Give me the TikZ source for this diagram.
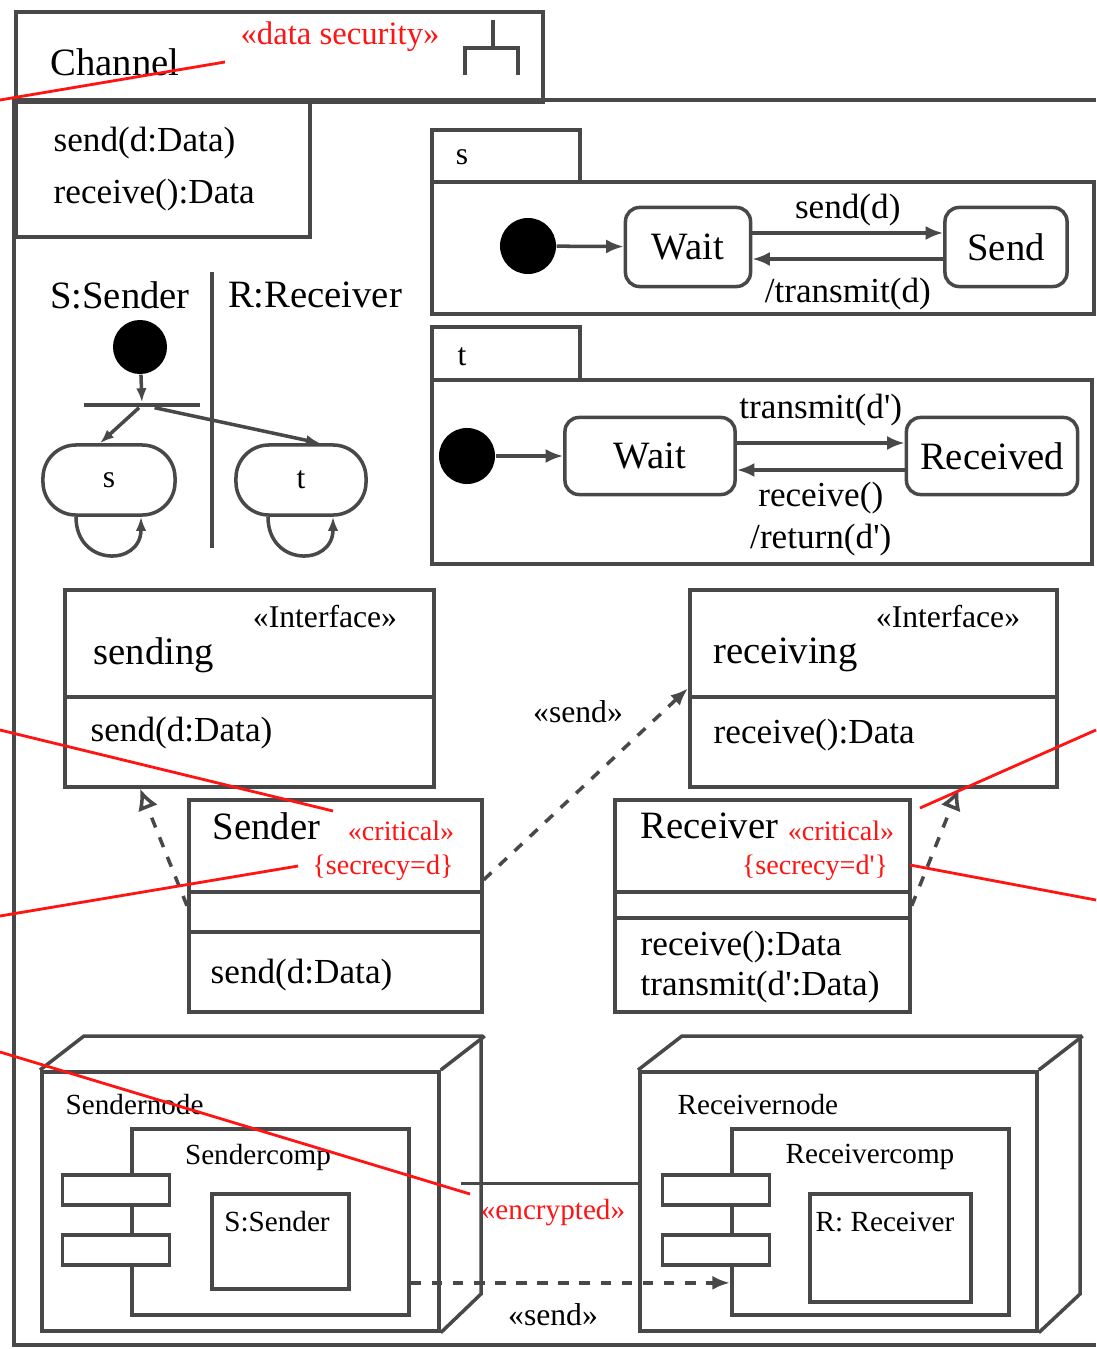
\documentclass[tikz,border=0pt]{standalone}
\usepackage{fontspec}
\setmainfont{Liberation Serif}
\usetikzlibrary{arrows.meta,positioning,calc}
\definecolor{umlline}{RGB}{72,72,72}
\definecolor{umlred}{RGB}{255,20,20}
\newcommand{\prm}{\textquotesingle}
\tikzset{
  box/.style={draw=umlline,line width=1pt,inner sep=0pt,fill=white},
  frameline/.style={draw=umlline,line width=1pt},
  statebox/.style={box,rounded corners=0.14cm},
  startdot/.style={circle,fill=black,inner sep=0pt,minimum size=0.56cm},
  bigtxt/.style={inner sep=0pt,font=\fontsize{11}{13}\selectfont},
  optxt/.style={inner sep=0pt,font=\fontsize{10}{12}\selectfont},
  smalltxt/.style={inner sep=0pt,font=\fontsize{9}{11}\selectfont},
  deptxt/.style={inner sep=0pt,font=\fontsize{8.3}{10}\selectfont},
  redtxt/.style={inner sep=0pt,text=umlred,font=\fontsize{8}{10}\selectfont},
  trans/.style={frameline,-{Latex[length=5pt,width=4pt]}},
  realize/.style={frameline,dashed,-{Latex[open,length=6pt,width=6pt]}},
  usedep/.style={frameline,dashed,-{Latex[length=5pt,width=4pt]}},
  redline/.style={draw=umlred,line width=0.8pt},
}
\begin{document}
\begin{tikzpicture}[x=0.01cm,y=-0.01cm]
  \useasboundingbox (0,0) rectangle (1096,1349);
  % subsystem frame with its tab
  \node[box,minimum width=5.27cm,minimum height=0.9cm,anchor=north west] (chtab) at (14,10) {};
  \draw[frameline] (1096,100) -- (14,100) -- (14,1345) -- (1096,1345);
  \node[bigtxt] (chname) at (115,62) {Channel};
  \node[redtxt,font=\fontsize{9.3}{11}\selectfont] (chstereo) at (340,37) {«data security»};
  \draw[frameline] (493,20) -- (493,48) (465,75) -- (465,48) -- (518,48) -- (518,75);
  \node[box,minimum width=2.94cm,minimum height=1.35cm,anchor=north west] (chops) at (14,100) {};
  \node[optxt,anchor=west] (chop1) at (53,143) {send(d:Data)};
  \node[optxt,anchor=west] (chop2) at (53,195) {receive():Data};

  % activity with two swimlanes
  \node[bigtxt] (lanes) at (120,295) {S:Sender};
  \node[bigtxt] (laner) at (315,295) {R:Receiver};
  \draw[frameline] (212,272) -- (212,548);
  \node[startdot,minimum size=0.54cm] (actstart) at (140,347) {};
  \node[fill=umlline,inner sep=0pt,minimum width=1.15cm,minimum height=0.04cm] (fork) at (142,405) {};
  \node[box,rounded corners=0.33cm,minimum width=1.32cm,minimum height=0.7cm,smalltxt] (acts) at (109,480) {s};
  \node[box,rounded corners=0.33cm,minimum width=1.3cm,minimum height=0.7cm,smalltxt] (actt) at (301,480) {t};
  \draw[frameline,-{Latex[length=4pt,width=3pt]}] (actstart) -- (fork);
  \draw[frameline,-{Latex[length=4pt,width=3pt]}] (fork) -- ([xshift=-0.09cm]acts.north);
  \draw[frameline,-{Latex[length=4pt,width=3pt]}] (fork) -- ([xshift=0.19cm]actt.north);
  \draw[frameline,-{Latex[length=4pt,width=3pt]}] ([xshift=-0.33cm]acts.south) .. controls +(0,50) and +(0,50) .. ([xshift=0.32cm]acts.south);
  \draw[frameline,-{Latex[length=4pt,width=3pt]}] ([xshift=-0.33cm]actt.south) .. controls +(0,50) and +(0,50) .. ([xshift=0.32cm]actt.south);

  % state machine s
  \node[box,minimum width=1.48cm,minimum height=0.52cm,anchor=north west] (stab) at (430,128) {};
  \node[smalltxt] (stabname) at (462,157) {s};
  \node[box,minimum width=6.62cm,minimum height=1.32cm,anchor=north west] (sbody) at (430,180) {};
  \node[startdot] (sstart) at (528,246) {};
  \node[statebox,minimum width=1.25cm,minimum height=0.79cm,bigtxt] (swait) at (688,247) {Wait};
  \node[statebox,minimum width=1.22cm,minimum height=0.79cm,bigtxt] (ssend) at (1006,247) {Send};
  \draw[trans] (sstart) -- (swait);
  \draw[trans] ([yshift=0.14cm]swait.east) -- ([yshift=0.14cm]ssend.west)
    node[midway,above=0.05cm,optxt] {send(d)};
  \draw[trans] ([yshift=-0.12cm]ssend.west) -- ([yshift=-0.12cm]swait.east)
    node[midway,below=0.17cm,optxt] {/transmit(d)};

  % state machine t
  \node[box,minimum width=1.48cm,minimum height=0.53cm,anchor=north west] (ttab) at (430,325) {};
  \node[smalltxt] (ttabname) at (462,357) {t};
  \node[box,minimum width=6.6cm,minimum height=1.84cm,anchor=north west] (tbody) at (430,378) {};
  \node[startdot] (tstart) at (467,456) {};
  \node[statebox,minimum width=1.7cm,minimum height=0.77cm,bigtxt] (twait) at (650,456) {Wait};
  \node[statebox,minimum width=1.71cm,minimum height=0.77cm,bigtxt] (trecv) at (992,456) {Received};
  \draw[trans] (tstart) -- (twait);
  \draw[trans] ([yshift=0.13cm]twait.east) -- ([yshift=0.13cm]trecv.west)
    node[midway,above=0.15cm,optxt] {transmit(d\prm)};
  \draw[trans] ([yshift=-0.14cm]trecv.west) -- ([yshift=-0.14cm]twait.east)
    node[midway,below=0.1cm,optxt,align=center] {receive()\\/return(d\prm)};

  % interfaces and classes
  \node[box,minimum width=3.69cm,minimum height=1.97cm,anchor=north west] (sending) at (63,588) {};
  \draw[frameline] (63,697) -- (432,697);
  \node[smalltxt] (sendingst) at (325,617) {«Interface»};
  \node[bigtxt,anchor=west] (sendingname) at (93,655) {sending};
  \node[optxt,anchor=west] (sendingop) at (90,733) {send(d:Data)};

  \node[box,minimum width=2.93cm,minimum height=2.12cm,anchor=north west] (sender) at (187,798) {};
  \draw[frameline] (187,892) -- (480,892) (187,932) -- (480,932);
  \node[bigtxt,anchor=west] (sendername) at (212,826) {Sender};
  \node[redtxt] (sendercrit) at (401,831) {«critical»};
  \node[redtxt] (sendersec) at (383,868) {\{secrecy=d\}};
  \node[optxt,anchor=west] (senderop) at (210,975) {send(d:Data)};

  \node[box,minimum width=3.67cm,minimum height=1.97cm,anchor=north west] (receiving) at (688,588) {};
  \draw[frameline] (688,697) -- (1055,697);
  \node[smalltxt] (receivingst) at (948,617) {«Interface»};
  \node[bigtxt,anchor=west] (receivingname) at (713,655) {receiving};
  \node[optxt,anchor=west] (receivingop) at (713,735) {receive():Data};

  \node[box,minimum width=2.95cm,minimum height=2.12cm,anchor=north west] (receiver) at (613,798) {};
  \draw[frameline] (613,892) -- (908,892) (613,918) -- (908,918);
  \node[bigtxt,anchor=west] (receivername) at (640,826) {Receiver};
  \node[redtxt] (receivercrit) at (841,831) {«critical»};
  \node[redtxt] (receiversec) at (815,868) {\{secrecy=d\prm\}};
  \node[optxt,anchor=west] (receiverop1) at (640,947) {receive():Data};
  \node[optxt,anchor=west] (receiverop2) at (640,987) {transmit(d\prm:Data)};

  \draw[realize] (sender.west) -- ([xshift=0.77cm]sending.south west);
  \draw[realize] (receiver.east) -- ([xshift=-1cm]receiving.south east);
  \draw[usedep] ([yshift=0.26cm]sender.east) -- (receiving.west);
  \node[smalltxt] (senduse) at (578,712) {«send»};

  % deployment: sender node
  \node[box,minimum width=3.97cm,minimum height=2.59cm,anchor=north west] (sndnode) at (40,1070) {};
  \draw[frameline] (sndnode.north west) -- ++(44,-34) -- ++(397,0) -- ++(0,258) -- (sndnode.south east);
  \draw[frameline] (sndnode.north east) -- ++(44,-34);
  \node[deptxt,anchor=west] (sndnodename) at (65,1105) {Sendernode};
  \node[box,minimum width=2.77cm,minimum height=1.86cm,anchor=north west] (sndcomp) at (130,1127) {};
  \node[deptxt] (sndcompname) at (258,1157) {Sendercomp};
  \node[box,minimum width=1.07cm,minimum height=0.3cm] (sndport1) at (116,1190) {};
  \node[box,minimum width=1.07cm,minimum height=0.3cm] (sndport2) at (116,1250) {};
  \node[box,minimum width=1.37cm,minimum height=0.95cm,anchor=north west] (sndobj) at (210,1192) {};
  \node[deptxt] (sndobjname) at (277,1222) {S:Sender};

  % deployment: receiver node
  \node[box,minimum width=3.97cm,minimum height=2.59cm,anchor=north west] (rcvnode) at (638,1070) {};
  \draw[frameline] (rcvnode.north west) -- ++(44,-34) -- ++(398,0) -- ++(0,258) -- (rcvnode.south east);
  \draw[frameline] (rcvnode.north east) -- ++(44,-34);
  \node[deptxt,anchor=west] (rcvnodename) at (677,1105) {Receivernode};
  \node[box,minimum width=2.77cm,minimum height=1.86cm,anchor=north west] (rcvcomp) at (730,1127) {};
  \node[deptxt] (rcvcompname) at (870,1157) {Receivercomp};
  \node[box,minimum width=1.07cm,minimum height=0.3cm] (rcvport1) at (716,1190) {};
  \node[box,minimum width=1.07cm,minimum height=0.3cm] (rcvport2) at (716,1250) {};
  \node[box,minimum width=1.61cm,minimum height=1.08cm,anchor=north west] (rcvobj) at (808,1192) {};
  \node[deptxt] (rcvobjname) at (885,1222) {R: Receiver};

  % link and dependency between the nodes
  \draw[frameline] ([xshift=0.2cm,yshift=0.18cm]sndnode.east) -- ([yshift=0.18cm]rcvnode.west);
  \node[redtxt,font=\fontsize{8.3}{10}\selectfont] (linkst) at (553,1213) {«encrypted»};
  \draw[usedep] ([yshift=-0.61cm]sndcomp.east) -- ([yshift=-0.61cm]rcvcomp.west);
  \node[smalltxt] (sendnodeuse) at (553,1315) {«send»};

  % red marker lines
  \draw[redline] (0,100) -- (225,62);
  \draw[redline] (0,730) -- (333,811);
  \draw[redline] (0,916) -- (298,866);
  \draw[redline] (0,1052) -- (470,1194);
  \draw[redline] (920,808) -- (1096,730);
  \draw[redline] (910,865) -- (1096,900);
\end{tikzpicture}
\end{document}
